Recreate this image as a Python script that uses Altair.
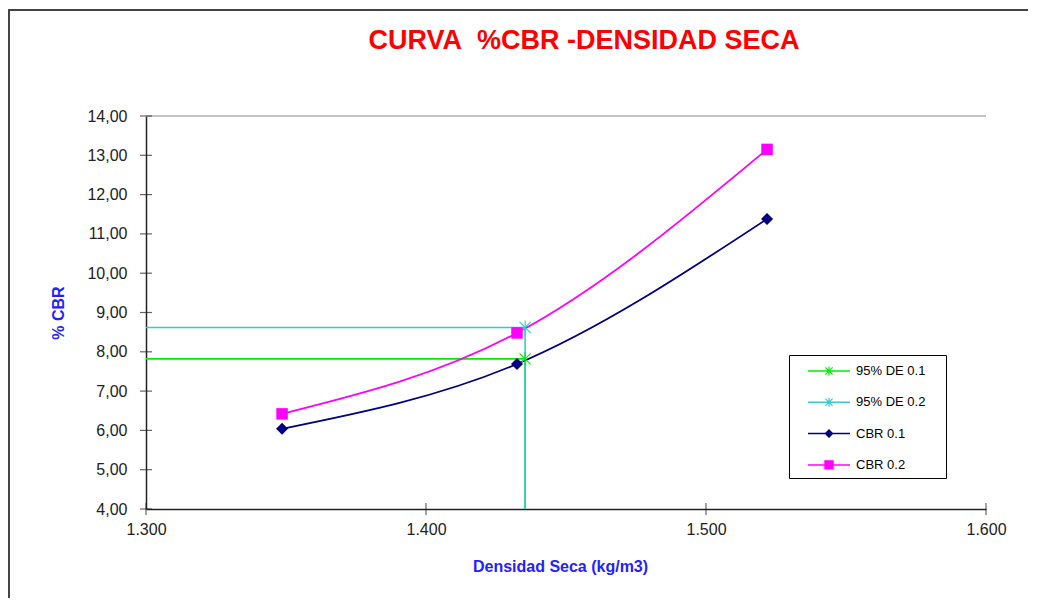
import altair as alt
import pandas as pd

# ---------------- data ----------------
series = ["95% DE 0.1", "95% DE 0.2", "CBR 0.1", "CBR 0.2"]
colors = ["#00ee00", "#33cccc", "#000080", "#ff00ff"]

densidad = [1.3486, 1.4325, 1.5218]
cbr_01 = [6.04, 7.69, 11.38]
cbr_02 = [6.42, 8.48, 13.15]

densidad_95 = 1.4354
cbr95_01 = 7.82
cbr95_02 = 8.62

x_min, x_max = 1.3, 1.6
y_min, y_max = 4.0, 14.0
x_ticks = [1.3, 1.4, 1.5, 1.6]
y_ticks = [4, 5, 6, 7, 8, 9, 10, 11, 12, 13, 14]

# ---------------- tables ----------------
rows = []
for s, v in [(series[0], cbr95_01), (series[1], cbr95_02)]:
    for i, (xx, yy) in enumerate([(x_min, v), (densidad_95, v), (densidad_95, y_min)]):
        rows.append({"series": s, "x": xx, "y": yy, "o": i})
lines95 = pd.DataFrame(rows)

rows = []
for s, vals in [(series[2], cbr_01), (series[3], cbr_02)]:
    for i, (xx, yy) in enumerate(zip(densidad, vals)):
        rows.append({"series": s, "x": xx, "y": yy, "o": i})
cbr_lines = pd.DataFrame(rows)

stars = pd.DataFrame({"series": series[:2], "x": [densidad_95, densidad_95], "y": [cbr95_01, cbr95_02]})
diam = cbr_lines[cbr_lines.series == series[2]]
sq = cbr_lines[cbr_lines.series == series[3]]
legend_df = pd.DataFrame({"series": series, "x": [densidad_95, densidad_95, densidad[2], densidad[2]],
                          "y": [cbr95_01, cbr95_02, cbr_01[2], cbr_02[2]]})

# ---------------- shapes ----------------
def rect(x0, y0, x1, y1):
    return f"M{x0:.3f},{y0:.3f}H{x1:.3f}V{y1:.3f}H{x0:.3f}Z"

def asterisk(a, t):
    d = t / 2 ** 0.5
    b = a * 0.8
    p = rect(-t, -a, t, a)
    p += (f"M{-b + d:.3f},{-b - d:.3f}L{b + d:.3f},{b - d:.3f}L{b - d:.3f},{b + d:.3f}L{-b - d:.3f},{-b + d:.3f}Z")
    p += (f"M{-b - d:.3f},{b - d:.3f}L{b - d:.3f},{-b - d:.3f}L{b + d:.3f},{-b + d:.3f}L{-b + d:.3f},{b + d:.3f}Z")
    return p

def diamond(a):
    return f"M0,{-a}L{a},0L0,{a}L{-a},0Z"

leg_line = rect(-2.1, -0.075, 2.1, 0.075)
legend_paths = [leg_line + asterisk(0.45, 0.06), leg_line + asterisk(0.45, 0.06),
                leg_line + diamond(0.45), leg_line + rect(-0.47, -0.47, 0.47, 0.47)]

star_path = asterisk(1.4, 0.11)
diamond_path = diamond(1.2)
square_path = rect(-1.15, -1.15, 1.15, 1.15)

# ---------------- scales / axes ----------------
FONT = "Liberation Sans"
xs = alt.Scale(domain=[x_min, x_max], nice=False, zero=False)
ys = alt.Scale(domain=[y_min, y_max], nice=False, zero=False)
cs = alt.Scale(domain=series, range=colors)

xaxis = alt.Axis(values=x_ticks, format=".3f", ticks=False, grid=False, labelPadding=12,
                 labelFont=FONT, labelFontSize=16, labelColor="#222", labelFlush=False,
                 labelOverlap=False, domainColor="#222", domainWidth=1.5,
                 title="Densidad Seca (kg/m3)", titleFont=FONT, titleFontSize=16,
                 titleFontWeight="bold", titleColor="#2222ff", titlePadding=21, titleX=414)
yaxis = alt.Axis(values=y_ticks, labelExpr="replace(format(datum.value, '.2f'), '.', ',')",
                 ticks=False, grid=False, labelPadding=19, labelFont=FONT, labelFontSize=16,
                 labelColor="#222", labelFlush=False, labelOverlap=False,
                 domainColor="#222", domainWidth=1.5, title="% CBR", titleFont=FONT,
                 titleFontSize=16, titleFontWeight="bold", titleColor="#2222ff", titlePadding=20)

leg = alt.Legend(orient="none", legendX=643, legendY=239, title=".", titleOrient="right",
                 titleColor="white", titleFontSize=4, titlePadding=13, padding=6,
                 fillColor="white", strokeColor="black", symbolSize=400, symbolOffset=24,
                 labelOffset=17, rowPadding=14.3, labelFont=FONT, labelFontSize=13,
                 labelColor="black", symbolStrokeWidth=0, symbolOpacity=1, direction="vertical")

X = alt.X("x:Q", scale=xs, axis=xaxis)
Y = alt.Y("y:Q", scale=ys, axis=yaxis)
C = alt.Color("series:N", scale=cs, legend=leg)

# ---------------- layers ----------------
frame = alt.Chart(pd.DataFrame({"a": [0]})).mark_rect(
    fillOpacity=0, stroke="#444", strokeWidth=2
).encode(x=alt.value(-137), x2=alt.value(1000), y=alt.value(-106), y2=alt.value(600))

top_rule = alt.Chart(pd.DataFrame({"a": [0]})).mark_rule(color="#b0b0b0", strokeWidth=1.5).encode(
    x=alt.datum(x_min, scale=xs, axis=xaxis), x2=alt.datum(x_max),
    y=alt.datum(y_max, scale=ys, axis=yaxis))

l95 = alt.Chart(lines95).mark_line(strokeWidth=1.6).encode(
    x=X, y=Y, color=C, order="o:Q", detail="series:N")

lcbr = alt.Chart(cbr_lines).mark_line(strokeWidth=1.8, interpolate="monotone").encode(
    x=X, y=Y, color=C, order="o:Q", detail="series:N")

m_star = alt.Chart(stars).mark_point(filled=True, shape=star_path, size=100, opacity=1).encode(
    x=X, y=Y, color=C)
m_diam = alt.Chart(diam).mark_point(filled=True, shape=diamond_path, size=100, opacity=1).encode(
    x=X, y=Y, color=C)
m_sq = alt.Chart(sq).mark_point(filled=True, shape=square_path, size=100, opacity=1).encode(
    x=X, y=Y, color=C)

y_tick_marks = alt.Chart(pd.DataFrame({"y": y_ticks})).mark_tick(
    orient="horizontal", size=12, thickness=1.2, color="#222").encode(
    x=alt.datum(x_min, scale=xs, axis=xaxis), y=Y)
x_tick_marks = alt.Chart(pd.DataFrame({"x": x_ticks})).mark_tick(
    orient="vertical", size=12, thickness=1.2, color="#222").encode(
    x=X, y=alt.datum(y_min, scale=ys, axis=yaxis))

legend_layer = alt.Chart(legend_df).mark_point(filled=True, opacity=0).encode(
    x=X, y=Y,
    color=C,
    shape=alt.Shape("series:N", scale=alt.Scale(domain=series, range=legend_paths), legend=leg))

chart = alt.layer(
    frame, top_rule, l95, lcbr, m_star, m_diam, m_sq, y_tick_marks, x_tick_marks, legend_layer
).properties(
    width=840, height=393,
    background="white",
    title=alt.TitleParams("CURVA\u00a0 %CBR -DENSIDAD SECA", font=FONT, fontSize=27,
                          fontWeight="bold", color="#ff0000", anchor="middle", dx=18,
                          offset=-46, frame="group"),
    autosize=alt.AutoSizeParams(type="none"),
    padding={"left": 138, "top": 108, "right": 42, "bottom": 89},
).configure_view(stroke="transparent", strokeWidth=0)

chart.save("out.html", embed_options={"renderer": "svg", "actions": False})
